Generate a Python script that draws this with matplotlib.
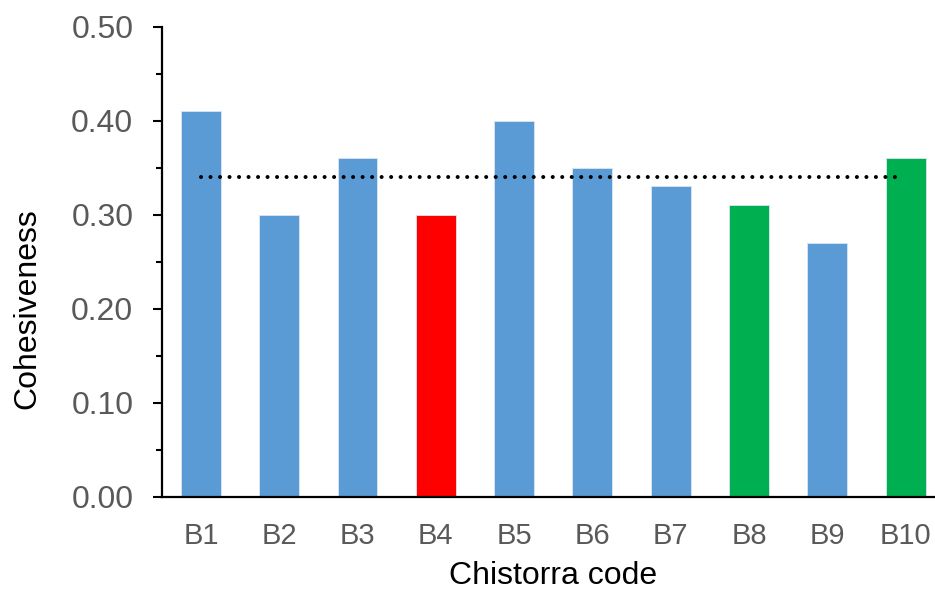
import matplotlib
matplotlib.use("Agg")
import matplotlib.pyplot as plt
from matplotlib.ticker import MultipleLocator, FormatStrFormatter

# data
codes = ["B1", "B2", "B3", "B4", "B5", "B6", "B7", "B8", "B9", "B10"]
cohesiveness = [0.41, 0.30, 0.36, 0.30, 0.40, 0.35, 0.33, 0.31, 0.27, 0.36]
bar_colors = ["#5B9BD5", "#5B9BD5", "#5B9BD5", "#FF0000", "#5B9BD5",
              "#5B9BD5", "#5B9BD5", "#00B050", "#5B9BD5", "#00B050"]
mean_value = 0.34

plt.rcParams['font.family'] = ['Liberation Sans', 'DejaVu Sans']
grey = "#595959"

fig = plt.figure(figsize=(9.35, 5.92), dpi=100)
ax = fig.add_axes([0.173, 0.161, 0.8374, 0.794])

x = range(len(codes))
ax.bar(x, cohesiveness, width=0.51, color=bar_colors, edgecolor="#DCE6F2",
       linewidth=0.6, zorder=2)

# dotted mean line
ax.plot([0, 8.92], [mean_value, mean_value], color="black", linewidth=2.9,
        dashes=(0.01, 2.35), dash_capstyle="round", zorder=3)

ax.set_xlim(-0.5, 9.5)
ax.set_ylim(0, 0.5)
ax.yaxis.set_major_locator(MultipleLocator(0.1))
ax.yaxis.set_minor_locator(MultipleLocator(0.05))
ax.yaxis.set_major_formatter(FormatStrFormatter('%.2f'))
ax.set_xticks(list(x))
ax.set_xticklabels(codes)

for side in ["top", "right"]:
    ax.spines[side].set_visible(False)
for side in ["left", "bottom"]:
    ax.spines[side].set_linewidth(1.6)
    ax.spines[side].set_color("black")

ax.tick_params(axis="y", which="major", length=6.5, width=1.5, labelsize=23,
               labelcolor=grey, pad=14)
ax.tick_params(axis="y", which="minor", length=4.3, width=1.5)
ax.tick_params(axis="x", length=0, labelsize=21, labelcolor=grey, pad=18.5)

ax.set_ylabel("Cohesiveness", fontsize=23, color="black", va="center")
ax.yaxis.set_label_coords(-0.171, 0.40)
ax.set_xlabel("Chistorra code", fontsize=23, color="black", labelpad=7.5)

fig.savefig("out.png", dpi=100)
